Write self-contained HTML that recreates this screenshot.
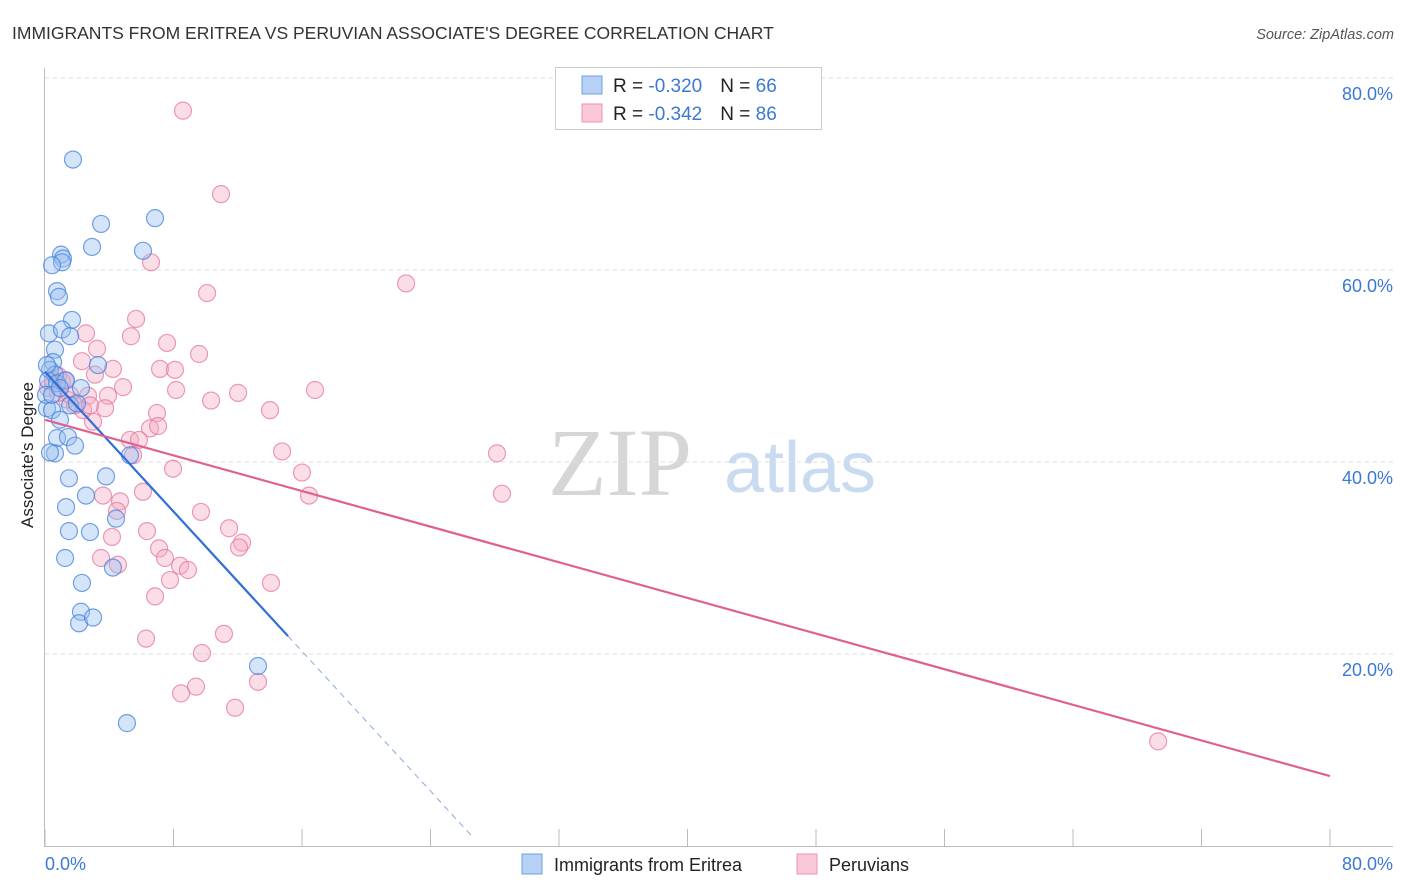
<!DOCTYPE html>
<html><head><meta charset="utf-8"><style>
body{margin:0;background:#fff;font-family:"Liberation Sans",sans-serif;}
#wrap{position:relative;width:1406px;height:892px;overflow:hidden;}
</style></head><body>
<div id="wrap">
<svg id="svg" width="1406" height="892" xmlns="http://www.w3.org/2000/svg">
<text x="12" y="39" font-size="17.5" fill="#333">IMMIGRANTS FROM ERITREA VS PERUVIAN ASSOCIATE'S DEGREE CORRELATION CHART</text>
<text x="1394" y="39" font-size="14.5" fill="#555" font-style="italic" text-anchor="end">Source: ZipAtlas.com</text>
<text x="620" y="495" font-size="96" fill="#d6d6d6" font-family="Liberation Serif,serif" text-anchor="middle">ZIP</text>
<text x="800" y="492" font-size="72" fill="#c9dbf1" text-anchor="middle">atlas</text>
<g id="grid"></g><g id="axes"></g><g id="pts"></g><g id="lines"></g>
<text x="33" y="455" font-size="17" fill="#222" text-anchor="middle" transform="rotate(-90 33 455)">Associate's Degree</text>
<g>
<rect x="555.5" y="67.5" width="266" height="62" fill="#fff" stroke="#ccc"/>
<rect x="582" y="76" width="20" height="18" fill="#b7d1f5" stroke="#6c9de3"/>
<rect x="582" y="104" width="20" height="18" fill="#fac8d7" stroke="#ec93b1"/>
<text x="613" y="92" font-size="19" fill="#222">R = <tspan fill="#3b78d8">-0.320</tspan><tspan dx="18">N = </tspan><tspan fill="#3b78d8">66</tspan></text>
<text x="613" y="120" font-size="19" fill="#222">R = <tspan fill="#3b78d8">-0.342</tspan><tspan dx="18">N = </tspan><tspan fill="#3b78d8">86</tspan></text>
</g>
<g>
<rect x="522" y="854" width="20" height="20" fill="#b7d1f5" stroke="#6c9de3"/>
<text x="554" y="871" font-size="18" fill="#222">Immigrants from Eritrea</text>
<rect x="797" y="854" width="20" height="20" fill="#fac8d7" stroke="#ec93b1"/>
<text x="829" y="871" font-size="18" fill="#222">Peruvians</text>
</g>
</svg>
</div>
<script>
const blueX=[1.74,3.49,6.85,2.93,6.10,1.0,1.12,1.06,0.44,0.75,0.87,1.68,0.25,1.06,1.56,0.62,0.5,3.3,0.31,0.62,0.19,0.75,1.31,2.24,1.56,0.12,0.44,1.99,0.93,0.75,1.43,1.87,0.62,0.31,5.29,3.80,1.49,2.55,1.31,4.42,2.80,1.49,1.25,4.23,2.30,2.24,2.12,2.99,13.26,5.10,0.06,0.44,0.93,0.12];
const blueY=[71.5,64.8,65.4,62.4,62.0,61.6,61.2,60.8,60.5,57.8,57.2,54.8,53.4,53.8,53.1,51.7,50.4,50.1,49.6,49.1,48.5,48.2,48.5,47.7,45.9,45.6,45.4,46.1,44.4,42.5,42.6,41.7,40.9,41.0,40.7,38.5,38.3,36.5,35.3,34.1,32.7,32.8,30.0,29.0,27.4,24.4,23.2,23.8,18.75,12.8,47.0,47.0,47.7,50.1];
const pinkX=[8.59,10.96,6.60,22.48,10.09,5.67,2.55,5.35,7.60,3.24,9.59,2.30,7.16,8.09,4.23,0.81,1.06,3.11,8.16,12.02,16.81,4.86,10.34,2.68,3.92,3.74,1.37,14.01,6.97,2.99,6.54,7.04,5.29,5.85,14.76,28.14,5.48,7.97,16.0,3.61,6.10,28.45,16.44,4.67,4.48,9.71,11.46,6.35,4.17,12.27,12.08,3.49,7.10,7.47,8.41,8.90,4.54,7.78,14.07,6.85,11.14,6.29,9.77,13.26,9.40,8.47,11.83,69.3,0.19,0.5,0.81,1.25,1.56,1.87,2.37,2.80];
const pinkY=[76.6,67.9,60.8,58.6,57.6,54.9,53.4,53.1,52.4,51.8,51.25,50.5,49.7,49.6,49.7,49.0,48.4,49.1,47.5,47.2,47.5,47.8,46.4,46.9,46.9,45.6,46.5,45.4,45.1,44.2,43.5,43.75,42.3,42.3,41.1,40.9,40.7,39.3,38.9,36.5,36.9,36.7,36.5,35.9,34.9,34.8,33.1,32.8,32.2,31.6,31.1,30.0,31.0,30.0,29.2,28.75,29.3,27.7,27.4,26.0,22.1,21.6,20.1,17.1,16.6,15.9,14.4,10.9,47.7,48.5,47.2,48.5,47.0,45.9,45.4,45.9];
const blueTrend=[49.4,-1.82]; // intercept, slope
const pinkTrend=[44.4,-0.464];
const xTicks=[0,8,16,24,32,40,48,56,64,72,80];
const yTicks=[20,40,60,80];
const yTickLabels=["20.0%","40.0%","60.0%","80.0%"];
const xs=v=>45+v*1285/80, ys=v=>846-v*9.6;
const NS="http://www.w3.org/2000/svg";
function mk(p,tag,a){const e=document.createElementNS(NS,tag);for(const k in a)e.setAttribute(k,a[k]);p.appendChild(e);return e;}
const grid=document.getElementById('grid'),axes=document.getElementById('axes'),pts=document.getElementById('pts'),lines=document.getElementById('lines');
yTicks.forEach((t,i)=>{
 const l=mk(grid,'line',{x1:45,x2:1393,y1:ys(t),y2:ys(t),stroke:'#ddd','stroke-dasharray':'4,4'});
 
 
 const tx=mk(grid,'text',{x:1393,y:ys(t)+22,'font-size':18,fill:'#3b78d8','text-anchor':'end'});
 tx.textContent=yTickLabels[i];
 
 
});
const ax1=mk(axes,'line',{x1:44.5,x2:44.5,y1:68,y2:846,stroke:'#bbb'});


const ax2=mk(axes,'line',{x1:44,x2:1393,y1:846.5,y2:846.5,stroke:'#bbb'});


xTicks.forEach(t=>{
 const l=mk(axes,'line',{x1:xs(t),x2:xs(t),y1:829,y2:846,stroke:'#bbb'});
 
 
});
const xl0=mk(axes,'text',{x:45,y:870,'font-size':18,fill:'#3b78d8'});xl0.textContent='0.0%';


const xl1=mk(axes,'text',{x:1393,y:870,'font-size':18,fill:'#3b78d8','text-anchor':'end'});xl1.textContent='80.0%';


pinkX.forEach((x,i)=>{
 const c=mk(pts,'circle',{cx:xs(x),cy:ys(pinkY[i]),r:8.5,fill:'rgba(245,170,195,0.4)',stroke:'rgba(230,120,160,0.75)','stroke-width':1.2});
 
 
});
blueX.forEach((x,i)=>{
 const c=mk(pts,'circle',{cx:xs(x),cy:ys(blueY[i]),r:8.5,fill:'rgba(150,190,240,0.4)',stroke:'rgba(70,130,220,0.75)','stroke-width':1.2});
 
 
});
const bEnd=15.13,bDash=26.6;
const bl=mk(lines,'line',{x1:xs(0),y1:ys(blueTrend[0]),x2:xs(bEnd),y2:ys(blueTrend[0]+blueTrend[1]*bEnd),stroke:'#2f6fd6','stroke-width':2.2});


const bd=mk(lines,'line',{x1:xs(bEnd),y1:ys(blueTrend[0]+blueTrend[1]*bEnd),x2:xs(bDash),y2:ys(blueTrend[0]+blueTrend[1]*bDash),stroke:'#8aa9dd','stroke-width':1,'stroke-dasharray':'6,5'});


const pl=mk(lines,'line',{x1:xs(0),y1:ys(pinkTrend[0]),x2:xs(80),y2:ys(pinkTrend[0]+pinkTrend[1]*80),stroke:'#e0608e','stroke-width':2.2});


</script>
</body></html>
